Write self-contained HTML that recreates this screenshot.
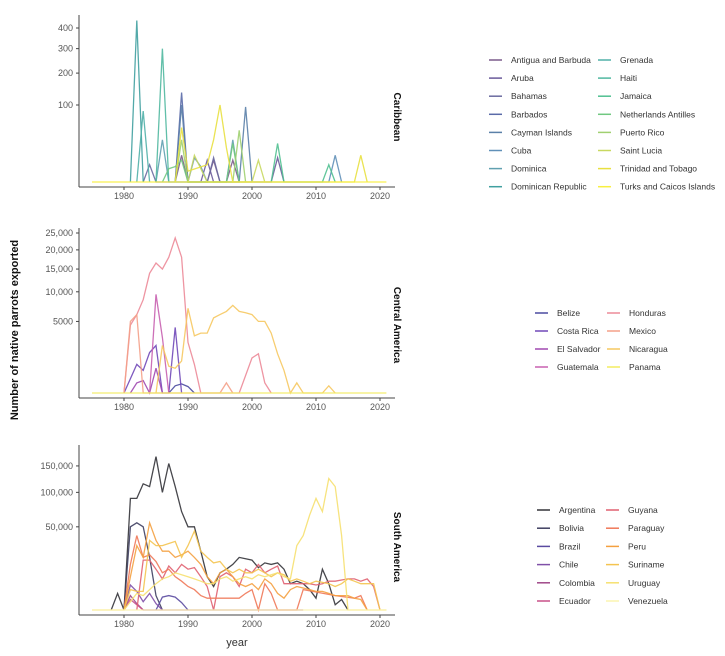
<!DOCTYPE html>
<html><head><meta charset="utf-8">
<style>
body{margin:0;background:#fff;}
svg{display:block;font-family:"Liberation Sans",sans-serif;}
.tk{font-size:9px;fill:#555;}
.lg{font-size:8.5px;fill:#333;}
.strip{font-size:10px;font-weight:bold;fill:#111;}
</style></head>
<body>
<svg id="chart" width="725" height="656">
<text x="18" y="330" transform="rotate(-90 18 330)" text-anchor="middle" style="font-size:11px;font-weight:bold;fill:#111">Number of native parrots exported</text>
<text x="237" y="646" text-anchor="middle" style="font-size:11px;fill:#333">year</text>
</svg>
<script>
const xTicks=[1980,1990,2000,2010,2020];
const carNames=["Antigua and Barbuda","Aruba","Bahamas","Barbados","Cayman Islands","Cuba","Dominica","Dominican Republic","Grenada","Haiti","Jamaica","Netherlands Antilles","Puerto Rico","Saint Lucia","Trinidad and Tobago","Turks and Caicos Islands"];
const carColors=["#7a5a8a","#6a5a9a","#6a6aa0","#5a6aa8","#5a80a8","#6090b8","#60a0b0","#40a0a0","#50b0a8","#50b8a0","#50c090","#70c880","#a0d070","#c8d860","#e8e040","#f8f040"];
const carTicks=[100,200,300,400];
const carSeries=[
 [[1988,0],[1989,12],[1990,0],[1993,0],[1994,8],[1995,0],[1996,0],[1997,8],[1998,0]],
 [[1992,0],[1993,8],[1994,0],[2003,0],[2004,10],[2005,0]],
 [[1983,0],[1984,5],[1985,0],[1993,0],[1994,10],[1995,0]],
 [[1988,0],[1989,135],[1990,0]],
 [[1988,0],[1989,100],[1990,0],[1998,0],[1999,95],[2000,0]],
 [[1990,0],[1991,10],[1992,4],[1993,0],[2012,0],[2013,12],[2014,0]],
 [[1985,0],[1986,30],[1987,0],[1996,0],[1997,30],[1998,0]],
 [[1981,0],[1982,440],[1983,0]],
 [[1982,0],[1983,85],[1984,0]],
 [[1985,0],[1986,300],[1987,0]],
 [[2003,0],[2004,25],[2005,0],[2011,0],[2012,5],[2013,0]],
 [[1986,0],[1987,3],[1988,4],[1989,8],[1990,0],[1996,0],[1997,25],[1998,0]],
 [[1988,0],[1989,30],[1990,0],[1997,0],[1998,45],[1999,0]],
 [[1990,0],[1991,12],[1992,3],[1993,0],[2000,0],[2001,8],[2002,0]],
 [[1988,0],[1989,50],[1990,2],[1993,5],[1994,30],[1995,100],[1996,20],[1997,0],[2016,0],[2017,12],[2018,0]],
 [[1975,0],[2021,0]]
];
const cenNames=["Belize","Costa Rica","El Salvador","Guatemala","Honduras","Mexico","Nicaragua","Panama"];
const cenColors=["#4a4aa0","#7048b8","#a048b0","#c860b0","#ec8a98","#f4a088","#f6c860","#f2ec60"];
const cenTicks=[5000,10000,15000,20000,25000];
const cenLabels=["5000","10,000","15,000","20,000","25,000"];
const cenSeries=[
 [[1987,0],[1988,50],[1989,80],[1990,40],[1991,0]],
 [[1980,0],[1982,800],[1983,500],[1984,1600],[1985,2200],[1986,0],[1987,0],[1988,4200],[1989,0]],
 [[1981,0],[1982,100],[1983,150],[1984,0],[1985,600],[1986,0]],
 [[1984,0],[1985,9500],[1986,3000],[1987,0]],
 [[1980,0],[1981,4500],[1982,6000],[1983,8500],[1984,14000],[1985,16500],[1986,15000],[1987,18000],[1988,23500],[1989,18000],[1990,2500],[1991,800],[1992,0],[1998,0],[1999,300],[2000,1200],[2001,1500],[2002,100],[2003,0]],
 [[1980,0],[1981,5000],[1982,6000],[1983,0],[1990,0],[1995,0],[1996,100],[1997,0]],
 [[1985,0],[1986,2200],[1987,700],[1988,600],[1989,1000],[1990,7000],[1991,3200],[1992,3500],[1993,3500],[1994,5500],[1995,6000],[1996,6500],[1997,7500],[1998,6500],[1999,6300],[2000,6000],[2001,5000],[2002,5000],[2003,3500],[2004,1500],[2005,500],[2006,0],[2007,100],[2008,0],[2011,0],[2012,50],[2013,0]],
 [[1975,0],[2021,0]]
];
const souNames=["Argentina","Bolivia","Brazil","Chile","Colombia","Ecuador","Guyana","Paraguay","Peru","Suriname","Uruguay","Venezuela"];
const souColors=["#333338","#3e3e60","#5a4aa0","#8050a8","#a04888","#c85088","#e06070","#f07858","#f4a040","#f4c450","#f6e070","#fbf4b0"];
const souTicks=[50000,100000,150000];
const souLabels=["50,000","100,000","150,000"];
const souSeries=[
 [[1978,0],[1979,2000],[1980,0],[1981,90000],[1982,90000],[1983,115000],[1984,110000],[1985,170000],[1986,100000],[1987,155000],[1988,110000],[1989,70000],[1990,50000],[1991,50000],[1992,25000],[1993,8000],[1994,4000],[1995,10000],[1996,12000],[1997,15000],[1998,20000],[1999,19000],[2000,18000],[2001,13000],[2002,16000],[2003,15000],[2004,16000],[2005,12000],[2006,5000],[2007,6000],[2008,5000],[2009,3000],[2010,1000],[2011,12000],[2012,5000],[2013,200],[2014,800],[2015,0]],
 [[1980,0],[1981,50000],[1982,55000],[1983,50000],[1984,20000],[1985,1500],[1986,0]],
 [[1985,0],[1986,1200],[1987,1500],[1988,1200],[1989,400],[1990,0]],
 [[1980,0],[1981,4500],[1982,2500],[1983,500],[1984,2000],[1985,300],[1986,0]],
 [[1980,0],[1981,1500],[1982,300],[1983,0],[1998,0],[2008,0]],
 [[1980,0],[1981,800],[1982,200],[1983,0]],
 [[1982,0],[1983,18000],[1984,18000],[1985,12000],[1986,7000],[1987,14000],[1988,10000],[1989,15000],[1990,12000],[1991,13000],[1992,8000],[1993,4000],[1994,0],[1995,8000],[1996,10000],[1997,8000],[1998,4000],[1999,12000],[2000,10000],[2001,15000],[2002,10000],[2003,12000],[2004,14000],[2005,5000],[2006,5000],[2007,5000],[2008,5000],[2009,5000],[2010,4500],[2011,5000],[2012,6000],[2013,6000],[2014,6500],[2015,7000],[2016,7000],[2017,6000],[2018,7000],[2019,4000],[2020,0]],
 [[1980,0],[1981,15000],[1982,40000],[1983,20000],[1984,22000],[1985,17000],[1986,10000],[1987,12000],[1988,8000],[1989,6000],[1990,4000],[1991,3000],[1992,1500],[1993,1000],[1998,1000],[1999,2000],[2000,3000],[2001,0],[2002,5000],[2003,2000],[2004,0],[2007,0],[2008,3000],[2013,1500],[2016,1000],[2017,1500],[2018,0]],
 [[1980,0],[1981,8000],[1982,30000],[1983,20000],[1984,55000],[1985,35000],[1986,25000],[1987,25000],[1988,20000],[1989,22000],[1990,25000],[1991,20000],[1992,15000],[1993,8000],[1994,5000],[1995,10000],[1996,12000],[1997,8000],[1998,5000],[1999,4000],[2000,5000],[2001,3000],[2002,7000],[2003,5000],[2004,2000],[2005,1000],[2006,3000],[2007,4000],[2008,3500],[2009,3000],[2010,2500],[2011,2500],[2012,2000],[2013,1500],[2014,1500],[2015,1500],[2016,1000],[2017,800],[2018,0]],
 [[1980,0],[1981,3000],[1982,2500],[1983,2500],[1984,35000],[1985,30000],[1986,30000],[1987,32000],[1988,34000],[1989,20000],[1990,30000],[1991,45000],[1992,25000],[1993,20000],[1994,16000],[1995,17000],[1996,12000],[1997,10000],[1998,12000],[1999,10000],[2000,10000],[2001,12000],[2002,10000],[2003,8000],[2004,10000],[2005,9000],[2006,6000],[2007,7000],[2008,6000],[2009,5000],[2010,6000],[2011,5500],[2012,5000],[2013,4000],[2014,5000],[2015,7000],[2016,6000],[2017,5000],[2018,5000],[2019,5000],[2020,0]],
 [[1975,0],[1980,0],[1981,500],[1982,2000],[1983,1500],[1984,3000],[1985,5000],[1986,7000],[1987,8000],[1988,10000],[1989,9000],[1990,8000],[1991,7000],[1992,6000],[1993,5000],[1994,5000],[1995,7000],[1996,8000],[1997,6000],[1998,7000],[1999,8000],[2000,7000],[2001,9000],[2002,8000],[2003,9000],[2004,10000],[2005,8000],[2006,7000],[2007,30000],[2008,40000],[2009,65000],[2010,90000],[2011,70000],[2012,125000],[2013,110000],[2014,40000],[2015,0],[2021,0]],
 [[1975,0],[2021,0]]
];
const NS="http://www.w3.org/2000/svg";
const svg=document.getElementById('chart');
function mk(tag,attrs,parent){const e=document.createElementNS(NS,tag);for(const k in attrs)e.setAttribute(k,attrs[k]);(parent||svg).appendChild(e);return e;}
function xS(yr){return 124+(yr-1980)*6.4;}
function panel(cfg){
 const g=mk('g',{});
 
 
 const yS=v=>cfg.base-Math.sqrt(v)*cfg.k;
 const ax=mk('line',{x1:79,x2:79,y1:cfg.top,y2:cfg.base+5,stroke:'#444','stroke-width':1},g);
 
 
 const bx=mk('line',{x1:79,x2:395,y1:cfg.base+5,y2:cfg.base+5,stroke:'#444','stroke-width':1},g);
 
 
 xTicks.forEach(t=>{
  mk('line',{x1:xS(t),x2:xS(t),y1:cfg.base+5,y2:cfg.base+8,stroke:'#444'},g);
  const tx=mk('text',{x:xS(t),y:cfg.base+17,'text-anchor':'middle',class:'tk'},g);
  tx.textContent=t;
  
  
 });
 cfg.ticks.forEach((t,i)=>{
  mk('line',{x1:76,x2:79,y1:yS(t),y2:yS(t),stroke:'#444'},g);
  const tx=mk('text',{x:73,y:yS(t)+3,'text-anchor':'end',class:'tk'},g);
  tx.textContent=cfg.labels?cfg.labels[i]:t;
  
  
 });
 cfg.series.forEach((s,i)=>{
  const d=s.map((p,j)=>(j?'L':'M')+xS(p[0]).toFixed(1)+','+yS(p[1]).toFixed(1)).join('');
  const p=mk('path',{d:d,fill:'none',stroke:cfg.colors[i],'stroke-width':1.3,'stroke-opacity':0.9},g);
  
  
 });
 const st=mk('text',{x:394,y:cfg.stripY,transform:`rotate(90 394 ${cfg.stripY})`,'text-anchor':'middle',class:'strip'},g);
 st.textContent=cfg.title;
 
 
 const rows=Math.ceil(cfg.names.length/2);
 cfg.names.forEach((n,i)=>{
  const col=Math.floor(i/rows),row=i%rows;
  const lx=cfg.lx[col],ly=cfg.ly+row*cfg.ls;
  const le=mk('g',{},g);
  
  
  mk('line',{x1:lx,x2:lx+13,y1:ly,y2:ly,stroke:cfg.colors[i],'stroke-width':1.5},le);
  const t=mk('text',{x:lx+22,y:ly+3,class:'lg'},le);
  t.textContent=n;
 });
}
panel({key:'caribbean',title:'Caribbean',top:15,base:182,k:7.7,ticks:carTicks,series:carSeries,colors:carColors,names:carNames,stripY:117,lx:[489,598],ly:60,ls:18.1});
panel({key:'central-america',title:'Central America',top:228,base:393,k:1.012,ticks:cenTicks,labels:cenLabels,series:cenSeries,colors:cenColors,names:cenNames,stripY:325,lx:[535,607],ly:313,ls:18});
panel({key:'south-america',title:'South America',top:445,base:610,k:0.372,ticks:souTicks,labels:souLabels,series:souSeries,colors:souColors,names:souNames,stripY:547,lx:[537,606],ly:510,ls:18.2});
</script>
</body></html>
